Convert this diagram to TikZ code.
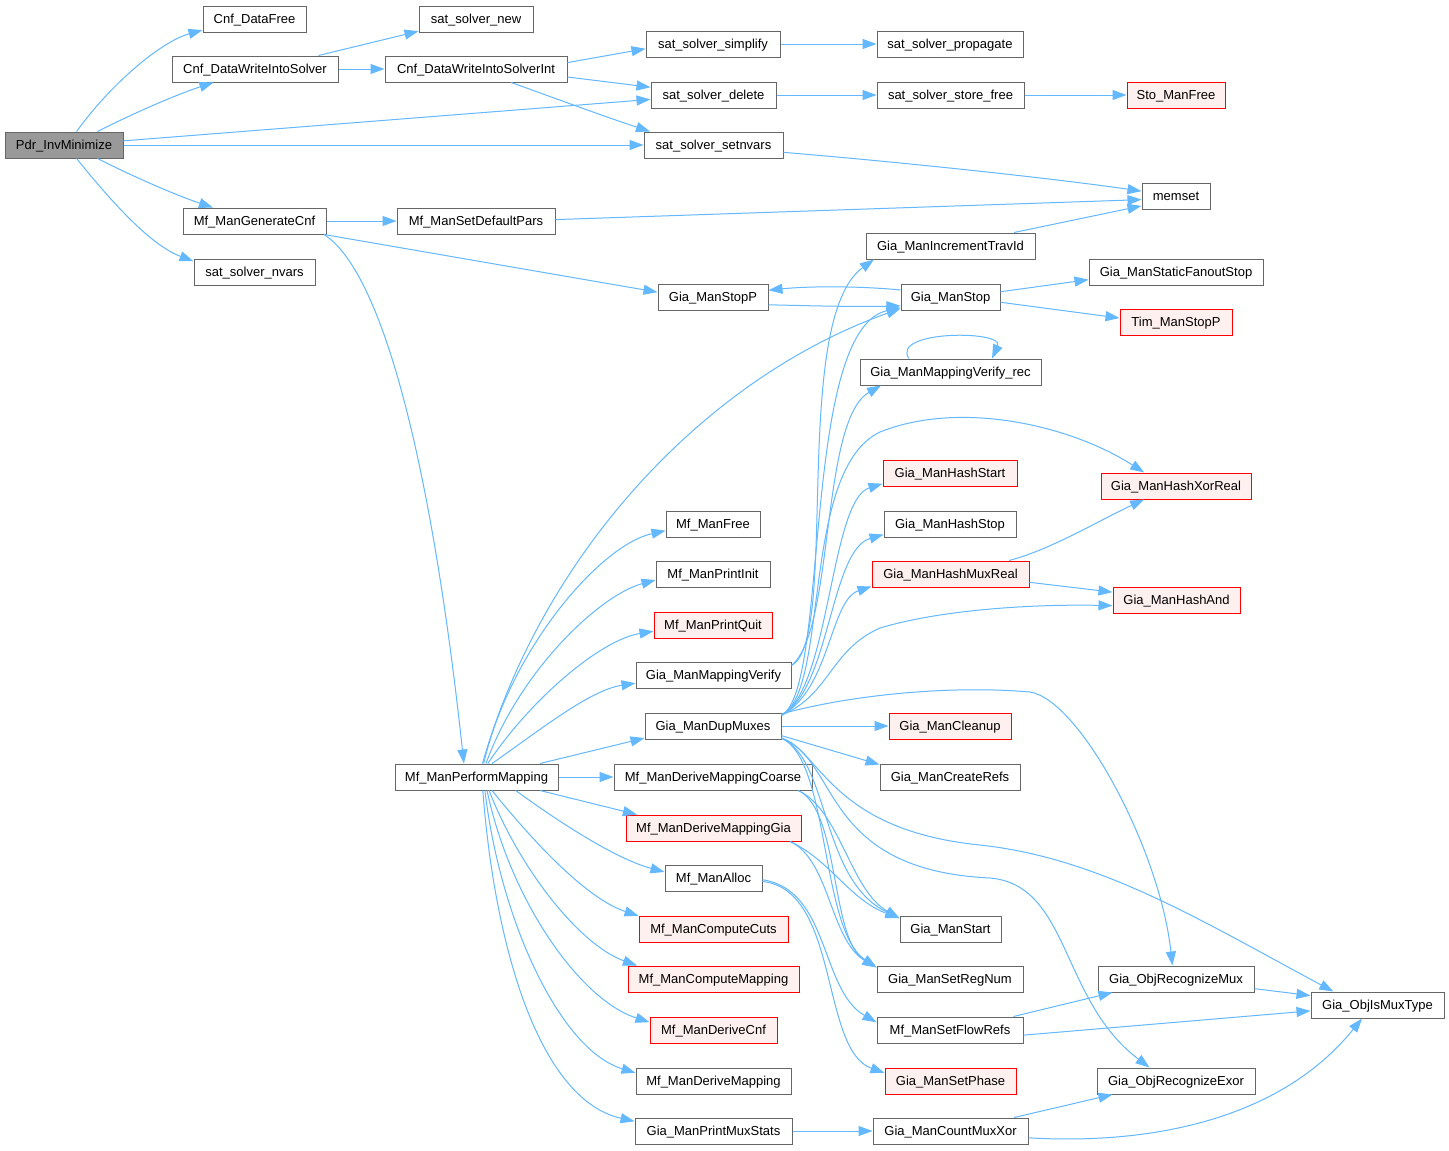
\documentclass[tikz,border=0pt]{standalone}
\usepackage{fontspec}
\setmainfont{Liberation Sans}
\usetikzlibrary{arrows.meta}
\definecolor{eb}{HTML}{63B8FF}
\definecolor{bd}{HTML}{666666}
\definecolor{rb}{HTML}{FF0000}
\definecolor{rf}{HTML}{FFF0F0}
\definecolor{gf}{HTML}{999999}
\begin{document}
\begin{tikzpicture}[x=1pt,y=-1pt,
 box/.style={draw=bd,fill=white,line width=1pt,minimum height=26pt,inner sep=1pt,text height=11pt,text depth=2pt,font=\fontsize{13}{15}\selectfont,anchor=center},
 redbox/.style={draw=rb,fill=rf},
 rootbox/.style={fill=gf},
 conn/.style={draw=eb,line width=1pt,-{Triangle[length=14pt,width=10pt]}}]
\path[use as bounding box,fill=white] (0,0) rectangle (1449,1151);
% column 1
\node[box,rootbox,minimum width=118] (pdr) at (64,145) {Pdr\_InvMinimize};
% column 2
\node[box,minimum width=103] (cdf) at (254.5,19) {Cnf\_DataFree};
\node[box,minimum width=166] (cdw) at (255,69) {Cnf\_DataWriteIntoSolver};
\node[box,minimum width=143] (mgc) at (254.5,221) {Mf\_ManGenerateCnf};
\node[box,minimum width=121] (ssn) at (254.5,272) {sat\_solver\_nvars};
\node[box,minimum width=163] (mpm) at (476.5,777) {Mf\_ManPerformMapping};
% column 3
\node[box,minimum width=114] (ssnew) at (476,19) {sat\_solver\_new};
\node[box,minimum width=182] (cdwi) at (476,69) {Cnf\_DataWriteIntoSolverInt};
\node[box,minimum width=158] (msdp) at (476,221) {Mf\_ManSetDefaultPars};
% column 4
\node[box,minimum width=134] (sssimp) at (713,44) {sat\_solver\_simplify};
\node[box,minimum width=125] (ssd) at (713.5,95) {sat\_solver\_delete};
\node[box,minimum width=139] (sss) at (713.5,145) {sat\_solver\_setnvars};
\node[box,minimum width=110] (gsp) at (713,297) {Gia\_ManStopP};
\node[box,minimum width=94] (mmf) at (713,524) {Mf\_ManFree};
\node[box,minimum width=114] (mpi) at (713,574) {Mf\_ManPrintInit};
\node[box,redbox,minimum width=118] (mpq) at (713,625) {Mf\_ManPrintQuit};
\node[box,minimum width=155] (gmv) at (713.5,675) {Gia\_ManMappingVerify};
\node[box,minimum width=136] (gdm) at (713,726) {Gia\_ManDupMuxes};
\node[box,minimum width=198] (mdmc) at (713,777) {Mf\_ManDeriveMappingCoarse};
\node[box,redbox,minimum width=175] (mdmg) at (713.5,828) {Mf\_ManDeriveMappingGia};
\node[box,minimum width=97] (mma) at (713.5,878) {Mf\_ManAlloc};
\node[box,redbox,minimum width=149] (mcc) at (713.5,929) {Mf\_ManComputeCuts};
\node[box,redbox,minimum width=171] (mcm) at (713.5,979) {Mf\_ManComputeMapping};
\node[box,redbox,minimum width=127] (mdc) at (713.5,1030) {Mf\_ManDeriveCnf};
\node[box,minimum width=155] (mdm) at (713.5,1081) {Mf\_ManDeriveMapping};
\node[box,minimum width=157] (gpms) at (713.5,1131) {Gia\_ManPrintMuxStats};
% column 5
\node[box,minimum width=146] (ssprop) at (950,44) {sat\_solver\_propagate};
\node[box,minimum width=147] (sssf) at (950.5,95) {sat\_solver\_store\_free};
\node[box,minimum width=169] (gmit) at (950.5,246) {Gia\_ManIncrementTravId};
\node[box,minimum width=99] (gs) at (950.5,297) {Gia\_ManStop};
\node[box,minimum width=181] (gmvr) at (950.5,372) {Gia\_ManMappingVerify\_rec};
\node[box,redbox,minimum width=134] (ghs) at (950,473) {Gia\_ManHashStart};
\node[box,minimum width=132] (ghst) at (950,524) {Gia\_ManHashStop};
\node[box,redbox,minimum width=157] (ghmr) at (950.5,574) {Gia\_ManHashMuxReal};
\node[box,redbox,minimum width=122] (gcln) at (950,726) {Gia\_ManCleanup};
\node[box,minimum width=140] (gcr) at (950,777) {Gia\_ManCreateRefs};
\node[box,minimum width=101] (gstart) at (950.5,929) {Gia\_ManStart};
\node[box,minimum width=146] (gsrn) at (950,979) {Gia\_ManSetRegNum};
\node[box,minimum width=146] (mfsr) at (950,1030) {Mf\_ManSetFlowRefs};
\node[box,redbox,minimum width=131] (gsph) at (950.5,1081) {Gia\_ManSetPhase};
\node[box,minimum width=155] (gcmx) at (950.5,1131) {Gia\_ManCountMuxXor};
% column 6
\node[box,redbox,minimum width=98] (sto) at (1176,95) {Sto\_ManFree};
\node[box,minimum width=68] (memset) at (1176,196) {memset};
\node[box,minimum width=174] (gsfs) at (1176,272) {Gia\_ManStaticFanoutStop};
\node[box,redbox,minimum width=112] (tim) at (1176,322) {Tim\_ManStopP};
\node[box,redbox,minimum width=150] (hxr) at (1176,486) {Gia\_ManHashXorReal};
\node[box,redbox,minimum width=127] (gha) at (1176.5,600) {Gia\_ManHashAnd};
\node[box,minimum width=156] (gorm) at (1176,979) {Gia\_ObjRecognizeMux};
\node[box,minimum width=158] (gore) at (1176,1081) {Gia\_ObjRecognizeExor};
% column 7
\node[box,minimum width=133] (gimt) at (1377.5,1005) {Gia\_ObjIsMuxType};

% edges from Pdr_InvMinimize
\draw[conn] (pdr.47) .. controls (110,85) and (160,42) .. (cdf.192);
\draw[conn] (pdr.22) .. controls (130,115) and (175,95) .. (cdw.198);
\draw[conn] (pdr.4) -- (ssd.184);
\draw[conn] (pdr.east) -- (sss.west);
\draw[conn] (pdr.338) .. controls (130,175) and (175,195) .. (mgc.162);
\draw[conn] (pdr.313) .. controls (110,200) and (150,245) .. (ssn.170);
% Cnf
\draw[conn] (cdw.12) -- (ssnew.192);
\draw[conn] (cdw.east) -- (cdwi.west);
\draw[conn] (cdwi.4) -- (sssimp.184);
\draw[conn] (cdwi.355) -- (ssd.173);
\draw[conn] (cdwi.339) .. controls (560,100) and (600,115) .. (sss.168);
\draw[conn] (sssimp.east) -- (ssprop.west);
\draw[conn] (ssd.east) -- (sssf.west);
\draw[conn] (sssf.east) -- (sto.west);
\draw[conn] (sss.354) .. controls (900,162) and (1050,178) .. (memset.172);
% Mf_ManGenerateCnf
\draw[conn] (mgc.east) -- (msdp.west);
\draw[conn] (msdp.1.5) -- (memset.186);
\draw[conn] (gmit.12) -- (memset.196);
\draw[conn] (mgc.349) -- (gsp.175);
\draw[conn] (mgc.349) .. controls (380,270) and (430,450) .. (mpm.133);
% Gia_ManStop / StopP
\draw[conn] (gsp.352) .. controls (820,306) and (860,307) .. (gs.190);
\draw[conn] (gs.172) .. controls (860,286) and (810,286) .. (gsp.7);
\draw[conn] (gs.6) -- (gsfs.185);
\draw[conn] (gs.354) -- (tim.176);
\draw[conn] (gmvr.162) .. controls (890,330) and (1005,330) .. (gmvr.18);
% Mf_ManPerformMapping fan
\draw[conn] (mpm.66) .. controls (540,560) and (700,380) .. (gs.193);
\draw[conn] (mpm.62) .. controls (510,650) and (600,545) .. (mmf.188);
\draw[conn] (mpm.55) .. controls (520,670) and (600,595) .. (mpi.186);
\draw[conn] (mpm.50) .. controls (530,700) and (600,640) .. (mpq.186);
\draw[conn] (mpm.41) .. controls (540,730) and (590,690) .. (gmv.186);
\draw[conn] (mpm.12) -- (gdm.190);
\draw[conn] (mpm.east) -- (mdmc.west);
\draw[conn] (mpm.348) -- (mdmg.170);
\draw[conn] (mpm.341) .. controls (570,830) and (620,860) .. (mma.173);
\draw[conn] (mpm.319) .. controls (540,850) and (590,900) .. (mcc.170);
\draw[conn] (mpm.313) .. controls (520,870) and (580,945) .. (mcm.170);
\draw[conn] (mpm.308) .. controls (510,900) and (580,1000) .. (mdc.173);
\draw[conn] (mpm.302) .. controls (500,920) and (560,1050) .. (mdm.174);
\draw[conn] (mpm.295) .. controls (495,950) and (540,1100) .. (gpms.173);
% Gia_ManMappingVerify
\draw[conn] (gmv.7) .. controls (840,640) and (790,320) .. (gmit.190);
\draw[conn] (gmv.7) .. controls (835,630) and (820,420) .. (gmvr.191);
% Gia_ManDupMuxes
\draw[conn] (gdm.9) .. controls (830,690) and (800,330) .. (gs.192);
\draw[conn] (gdm.9) .. controls (830,690) and (800,470) .. (880,432) .. controls (960,400) and (1070,425) .. (hxr.157);
\draw[conn] (gdm.9) .. controls (830,690) and (830,500) .. (ghs.189);
\draw[conn] (gdm.9) .. controls (830,690) and (830,550) .. (ghst.189);
\draw[conn] (gdm.9) .. controls (830,690) and (830,600) .. (ghmr.189);
\draw[conn] (gdm.9) .. controls (830,695) and (830,650) .. (880,628) .. controls (940,610) and (1030,604) .. (gha.185);
\draw[conn] (gdm.10) .. controls (850,695) and (950,685) .. (1030,692) .. controls (1080,700) and (1160,850) .. (gorm.105);
\draw[conn] (gdm.east) -- (gcln.west);
\draw[conn] (gdm.352) -- (gcr.170);
\draw[conn] (gdm.350) .. controls (820,750) and (830,830) .. (980,845) .. controls (1100,858) and (1200,920) .. (gimt.163);
\draw[conn] (gdm.350) .. controls (840,760) and (820,870) .. (990,878) .. controls (1070,885) and (1060,1000) .. (gore.153);
\draw[conn] (gdm.350) .. controls (830,760) and (820,880) .. (gstart.168);
\draw[conn] (gdm.350) .. controls (830,760) and (820,930) .. (gsrn.171);
% derive mapping
\draw[conn] (mdmc.351) .. controls (840,810) and (850,890) .. (gstart.168);
\draw[conn] (mdmc.351) .. controls (840,810) and (830,940) .. (gsrn.171);
\draw[conn] (mdmg.350) .. controls (830,860) and (850,900) .. (gstart.168);
\draw[conn] (mdmg.350) .. controls (830,860) and (830,940) .. (gsrn.171);
% Mf_ManAlloc
\draw[conn] (mma.358) .. controls (830,890) and (820,990) .. (mfsr.174);
\draw[conn] (mma.356) .. controls (840,890) and (820,1050) .. (gsph.173);
% hash
\draw[conn] (ghmr.13) .. controls (1050,550) and (1100,520) .. (hxr.203);
\draw[conn] (ghmr.354) -- (gha.173);
% mux
\draw[conn] (mfsr.12) -- (gorm.192);
\draw[conn] (mfsr.356) -- (gimt.185);
\draw[conn] (gorm.353) -- (gimt.172);
\draw[conn] (gcmx.12) -- (gore.192);
\draw[conn] (gcmx.355) .. controls (1150,1145) and (1280,1120) .. (gimt.221);
\draw[conn] (gpms.east) -- (gcmx.west);
\end{tikzpicture}
\end{document}
